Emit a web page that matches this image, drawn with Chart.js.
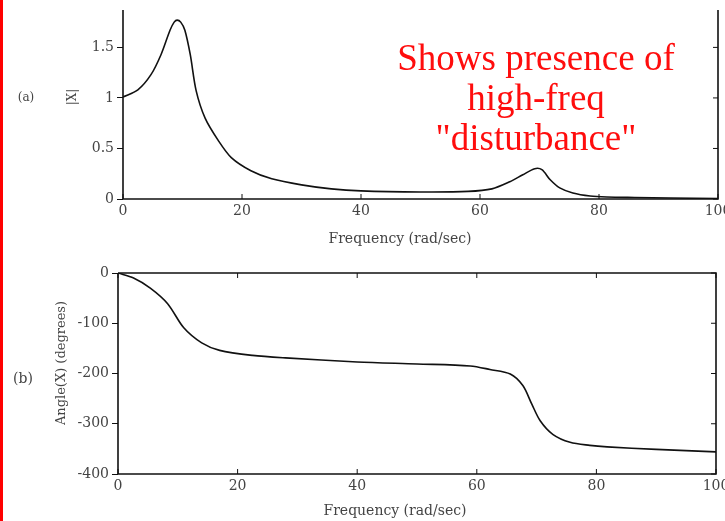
<!DOCTYPE html>
<html>
<head>
<meta charset="utf-8">
<script src="https://cdn.jsdelivr.net/npm/chart.js@4.4.1/dist/chart.umd.min.js"></script>
<style>
  html, body { margin: 0; padding: 0; background: #fff; }
  body { width: 725px; height: 521px; position: relative; overflow: hidden; font-family: 'DejaVu Serif', serif; color: #444; }
  canvas { position: absolute; left: 0; }
  #top { top: 0; }
  #bottom { top: 250px; }
  .lbl { position: absolute; white-space: nowrap; transform: translate(-50%, -50%); }
  .rot { transform: translate(-50%, -50%) rotate(-90deg); }
  #redline { position: absolute; left: 0; top: 0; width: 3px; height: 521px; background: #ff0000; }
  #note { position: absolute; left: 536px; top: 38px; transform: translateX(-50%); text-align: center;
          font-family: 'Liberation Serif', serif; font-size: 37px; line-height: 40px; color: #ff0d0d; white-space: nowrap; }
</style>
</head>
<body>
<div id="redline"></div>
<canvas id="top" width="725" height="250"></canvas>
<canvas id="bottom" width="725" height="271"></canvas>

<div class="lbl" style="left:26px; top:97px; font-size:12px;">(a)</div>
<div class="lbl rot" style="left:72px; top:97px; font-size:12px;">|X|</div>
<div class="lbl" style="left:400px; top:238px; font-size:14px;">Frequency (rad/sec)</div>

<div class="lbl" style="left:23px; top:378px; font-size:14px;">(b)</div>
<div class="lbl rot" style="left:60px; top:363px; font-size:13px;">Angle(X) (degrees)</div>
<div class="lbl" style="left:395px; top:510px; font-size:14px;">Frequency (rad/sec)</div>

<div id="note">Shows presence of<br>high-freq<br>"disturbance"</div>

<script>
// |X| curve
const MAG_FREQ = [0, 2.5, 4.7, 6.4, 7.9, 8.6, 9.1, 9.7, 10.4, 11.3, 12.3, 13.8, 16, 18.2, 21.5, 25, 30, 35, 40, 50,
                  58, 62, 65, 67.2, 69.2, 70.4, 71.8, 73.4, 75.6, 78.5, 81.3, 86, 92, 100];
const MAG = [1.01, 1.08, 1.23, 1.43, 1.67, 1.75, 1.77, 1.75, 1.67, 1.43, 1.07, 0.80, 0.58, 0.41, 0.28, 0.20, 0.14, 0.10, 0.08, 0.07,
             0.075, 0.10, 0.17, 0.24, 0.30, 0.29, 0.19, 0.11, 0.06, 0.03, 0.02, 0.015, 0.01, 0.005];

// Angle(X) curve
const PHASE_FREQ = [0, 2.6, 5.4, 8.3, 11, 14, 17, 22.5, 28, 40, 50, 58.9, 62.2, 65.6, 67.7, 69.2, 70.6, 72.7, 75.6, 78.9, 81.8, 90, 100];
const PHASE = [0, -10, -30, -61, -109, -139, -154, -164, -169, -177, -181, -185, -192, -201, -224, -261, -294, -321, -337, -343, -346, -351, -356];

const FREQ_TICKS = [0, 20, 40, 60, 80, 100];
const MAG_TICKS = [0, 0.5, 1, 1.5];
const PHASE_TICKS = [0, -100, -200, -300, -400];

const INK = '#111';
const TICK_FONT = { family: 'DejaVu Serif', size: 14 };

// box lines + inward tick marks
const frame = {
    id: 'frame',
    afterDraw(chart, args, opts) {
        const { ctx, chartArea: a, scales: { x, y } } = chart;
        ctx.save();
        ctx.strokeStyle = INK;
        ctx.lineWidth = 1.6;
        ctx.beginPath();
        ctx.moveTo(a.left, a.top);
        ctx.lineTo(a.left, a.bottom);
        ctx.lineTo(a.right, a.bottom);
        ctx.lineTo(a.right, a.top);
        if (opts.closed) ctx.lineTo(a.left, a.top);
        ctx.stroke();
        ctx.lineWidth = 1;
        ctx.beginPath();
        x.ticks.forEach(t => {
            const px = x.getPixelForValue(t.value);
            ctx.moveTo(px, a.bottom); ctx.lineTo(px, a.bottom - 5);
            if (opts.closed) { ctx.moveTo(px, a.top); ctx.lineTo(px, a.top + 5); }
        });
        y.ticks.forEach(t => {
            const py = y.getPixelForValue(t.value);
            ctx.moveTo(a.right, py); ctx.lineTo(a.right - 5, py);
        });
        ctx.stroke();
        ctx.restore();
    }
};

function makeChart(canvas, xs, ys, yTicks, yMin, yMax, box) {
    return new Chart(canvas, {
        type: 'line',
        data: {
            datasets: [{
                data: xs.map((v, i) => ({ x: v, y: ys[i] })),
                borderColor: INK,
                borderWidth: 1.6,
                pointRadius: 0,
                tension: 0.3,
                fill: false,
            }],
        },
        options: {
            responsive: false,
            animation: false,
            events: [],
            layout: { padding: { top: box.top, right: box.right, left: 0, bottom: 0 } },
            plugins: { legend: { display: false }, tooltip: { enabled: false }, frame: { closed: box.closed } },
            scales: {
                x: {
                    type: 'linear', min: 0, max: 100,
                    border: { display: false },
                    grid: { display: false, drawTicks: false },
                    afterBuildTicks: s => { s.ticks = FREQ_TICKS.map(v => ({ value: v })); },
                    afterFit: s => { s.height = box.xh; s.paddingLeft = 0; s.paddingRight = 0; },
                    ticks: { autoSkip: false, maxRotation: 0, padding: 4, color: '#444', font: TICK_FONT,
                             callback: v => String(v) },
                },
                y: {
                    type: 'linear', min: yMin, max: yMax,
                    border: { display: false },
                    grid: { drawOnChartArea: false, drawTicks: true, tickLength: 6, color: INK, lineWidth: 1 },
                    afterBuildTicks: s => { s.ticks = yTicks.map(v => ({ value: v })); },
                    afterFit: s => { s.width = box.yw; s.paddingTop = 0; s.paddingBottom = 0; },
                    ticks: { autoSkip: false, padding: 3, color: '#444', font: TICK_FONT,
                             callback: v => String(v) },
                },
            },
        },
        plugins: [frame],
    });
}

makeChart(document.getElementById('top'), MAG_FREQ, MAG, MAG_TICKS, 0, 1.87,
    { top: 10, right: 7, xh: 51, yw: 123, closed: false });
makeChart(document.getElementById('bottom'), PHASE_FREQ, PHASE, PHASE_TICKS, -400, 0,
    { top: 23, right: 9, xh: 47, yw: 118, closed: true });
</script>
</body>
</html>
